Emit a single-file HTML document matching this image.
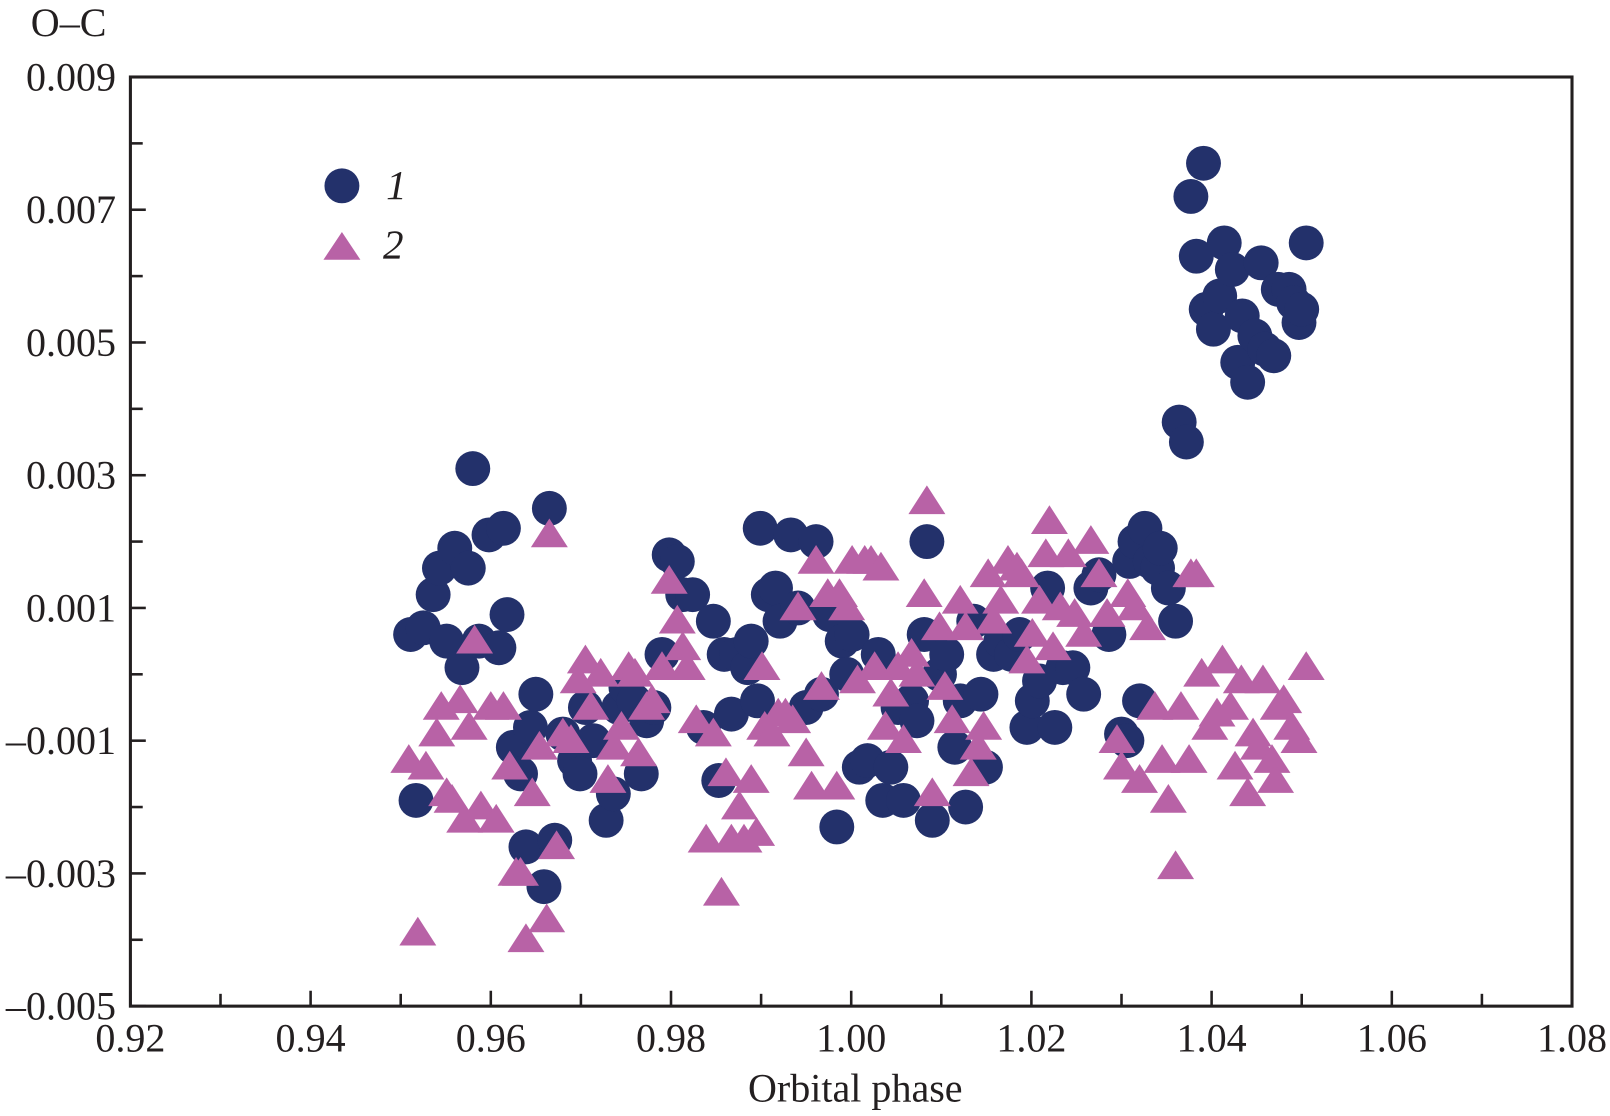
<!DOCTYPE html>
<html><head><meta charset="utf-8">
<style>
html,body{margin:0;padding:0;background:#fff;}
svg{display:block;}
text{font-family:"Liberation Serif",serif;fill:#231f20;}
</style></head>
<body>
<svg id="chart" width="1610" height="1116" viewBox="0 0 1568 1087" preserveAspectRatio="none" xmlns="http://www.w3.org/2000/svg">
<g id="marks1"></g>
<g id="marks2"></g>
<g id="axes"></g>
<text x="30" y="35" font-size="39">O–C</text>
<text x="833" y="1073" font-size="39" text-anchor="middle">Orbital phase</text>
<g>
<circle cx="333" cy="181" r="17" fill="#23316b"></circle>
<text x="376" y="194" font-size="40" font-style="italic">1</text>
<polygon points="315,253 351,253 333,226" fill="#b862a6"></polygon>
<text x="373" y="252" font-size="40" font-style="italic">2</text>
</g>
</svg>
<script>
const xTicks=[0.92,0.94,0.96,0.98,1.00,1.02,1.04,1.06,1.08];
const xTickLabels=["0.92","0.94","0.96","0.98","1.00","1.02","1.04","1.06","1.08"];
const yTicks=[0.009,0.007,0.005,0.003,0.001,-0.001,-0.003,-0.005];
const yTickLabels=["0.009","0.007","0.005","0.003","0.001","\u20130.001","\u20130.003","\u20130.005"];
const s1x=[0.9511,0.9525,0.9517,0.9536,0.9543,0.9551,0.9560,0.9568,0.9575,0.9580,0.9587,0.9598,0.9609,0.9614,0.9618,0.9625,0.9633,0.9639,0.9644,0.9650,0.9659,0.9665,0.9671,0.9680,0.9693,0.9699,0.9705,0.9714,0.9728,0.9736,0.9742,0.9750,0.9759,0.9767,0.9773,0.9781,0.9790,0.9798,0.9807,0.9813,0.9824,0.9836,0.9847,0.9853,0.9859,0.9867,0.9873,0.9885,0.9889,0.9896,0.9899,0.9908,0.9916,0.9921,0.9933,0.9941,0.9950,0.9961,0.9967,0.9976,0.9984,0.9990,0.9995,1.0001,1.0009,1.0018,1.0030,1.0035,1.0044,1.0052,1.0058,1.0067,1.0073,1.0081,1.0084,1.0090,1.0098,1.0106,1.0115,1.0121,1.0127,1.0136,1.0144,1.0149,1.0158,1.0166,1.0178,1.0187,1.0195,1.0201,1.0209,1.0218,1.0226,1.0235,1.0246,1.0258,1.0266,1.0275,1.0286,1.0300,1.0306,1.0309,1.0315,1.0320,1.0326,1.0332,1.0340,1.0343,1.0352,1.0360,1.0364,1.0372,1.0377,1.0383,1.0391,1.0394,1.0402,1.0409,1.0414,1.0423,1.0429,1.0434,1.0440,1.0448,1.0455,1.0459,1.0469,1.0474,1.0486,1.0491,1.0497,1.0505,1.0500];
const s1y=[0.0006,0.0007,-0.0019,0.0012,0.0016,0.0005,0.0019,0.0001,0.0016,0.0031,0.0005,0.0021,0.0004,0.0022,0.0009,-0.0011,-0.0015,-0.0026,-0.0008,-0.0003,-0.0032,0.0025,-0.0025,-0.0009,-0.0013,-0.0015,-0.0005,-0.0010,-0.0022,-0.0018,-0.0005,-0.0002,-0.0004,-0.0015,-0.0007,-0.0005,0.0003,0.0018,0.0017,0.0012,0.0012,-0.0008,0.0008,-0.0016,0.0003,-0.0006,0.0003,0.0001,0.0005,-0.0004,0.0022,0.0012,0.0013,0.0008,0.0021,0.0010,-0.0005,0.0020,-0.0003,0.0009,-0.0023,0.0005,0.0000,0.0006,-0.0014,-0.0013,0.0003,-0.0019,-0.0014,-0.0005,-0.0019,-0.0004,-0.0007,0.0006,0.0020,-0.0022,0.0000,0.0003,-0.0011,-0.0004,-0.0020,0.0008,-0.0003,-0.0014,0.0003,0.0005,0.0003,0.0006,-0.0008,-0.0004,-0.0001,0.0013,-0.0008,0.0001,0.0001,-0.0003,0.0013,0.0015,0.0006,-0.0009,-0.0010,0.0017,0.0020,-0.0004,0.0022,0.0017,0.0016,0.0019,0.0013,0.0008,0.0038,0.0035,0.0072,0.0063,0.0077,0.0055,0.0052,0.0057,0.0065,0.0061,0.0047,0.0054,0.0044,0.0051,0.0062,0.0049,0.0048,0.0058,0.0058,0.0056,0.0053,0.0065,0.0055];
const s2x=[0.9519,0.9509,0.9528,0.9540,0.9545,0.9551,0.9557,0.9566,0.9571,0.9576,0.9582,0.9589,0.9600,0.9606,0.9614,0.9621,0.9628,0.9633,0.9639,0.9646,0.9654,0.9662,0.9665,0.9673,0.9680,0.9689,0.9697,0.9705,0.9711,0.9722,0.9730,0.9737,0.9745,0.9753,0.9760,0.9764,0.9773,0.9779,0.9790,0.9798,0.9807,0.9813,0.9818,0.9828,0.9839,0.9847,0.9856,0.9861,0.9867,0.9876,0.9881,0.9889,0.9895,0.9901,0.9904,0.9912,0.9919,0.9927,0.9935,0.9941,0.9950,0.9956,0.9961,0.9967,0.9974,0.9984,0.9987,0.9995,1.0001,1.0007,1.0015,1.0022,1.0026,1.0033,1.0038,1.0044,1.0052,1.0058,1.0067,1.0073,1.0081,1.0084,1.0090,1.0098,1.0104,1.0112,1.0121,1.0127,1.0133,1.0141,1.0147,1.0152,1.0158,1.0166,1.0174,1.0184,1.0189,1.0195,1.0201,1.0209,1.0216,1.0220,1.0224,1.0232,1.0241,1.0248,1.0258,1.0266,1.0275,1.0284,1.0295,1.0300,1.0307,1.0315,1.0320,1.0329,1.0337,1.0345,1.0352,1.0360,1.0366,1.0375,1.0377,1.0383,1.0389,1.0398,1.0406,1.0412,1.0421,1.0426,1.0433,1.0440,1.0446,1.0452,1.0457,1.0467,1.0471,1.0474,1.0480,1.0489,1.0497,1.0505];
const s2y=[-0.0039,-0.0013,-0.0014,-0.0009,-0.0005,-0.0018,-0.0019,-0.0004,-0.0022,-0.0008,0.0005,-0.0020,-0.0005,-0.0022,-0.0005,-0.0014,-0.0030,-0.0030,-0.0040,-0.0018,-0.0011,-0.0037,0.0021,-0.0026,-0.0009,-0.0010,-0.0001,0.0002,-0.0005,0.0000,-0.0016,-0.0011,-0.0008,0.0001,0.0000,-0.0012,-0.0005,-0.0004,0.0001,0.0014,0.0008,0.0004,0.0001,-0.0007,-0.0025,-0.0009,-0.0033,-0.0015,-0.0025,-0.0020,-0.0025,-0.0016,-0.0024,0.0001,-0.0008,-0.0009,-0.0006,-0.0006,-0.0007,0.0010,-0.0012,-0.0017,0.0017,-0.0002,0.0012,-0.0017,0.0012,0.0010,0.0017,-0.0001,0.0017,0.0017,0.0001,0.0016,-0.0008,-0.0003,0.0001,-0.0010,0.0003,0.0000,0.0012,0.0026,-0.0018,0.0007,-0.0002,-0.0007,0.0011,0.0007,-0.0015,-0.0011,-0.0008,0.0015,0.0008,0.0011,0.0017,0.0016,0.0015,0.0002,0.0006,0.0011,0.0018,0.0023,0.0004,0.0010,0.0018,0.0009,0.0006,0.0020,0.0015,0.0009,-0.0010,-0.0014,0.0012,0.0010,-0.0016,0.0007,-0.0005,-0.0013,-0.0019,-0.0029,-0.0005,-0.0013,0.0015,0.0015,0.0000,-0.0008,-0.0006,0.0002,-0.0005,-0.0014,-0.0001,-0.0018,-0.0009,-0.0011,-0.0001,-0.0013,-0.0016,-0.0005,-0.0004,-0.0008,-0.0010,0.0001];

const NS="http://www.w3.org/2000/svg";
const L=127,R=1531,T=75,B=980;
const xMin=0.92,xMax=1.08,yMin=-0.005,yMax=0.009;
function X(v){return L+(v-xMin)/(xMax-xMin)*(R-L);}
function Y(v){return B-(v-yMin)/(yMax-yMin)*(B-T);}
function mk(tag,attrs,parent){const e=document.createElementNS(NS,tag);for(const k in attrs)e.setAttribute(k,attrs[k]);parent.appendChild(e);return e;}

const g1=document.getElementById('marks1');
for(let i=0;i<s1x.length;i++){
  const c=mk('circle',{cx:X(s1x[i]),cy:Y(s1y[i]),r:17,fill:'#23316b'},g1);
  
  
}
const g2=document.getElementById('marks2');
for(let i=0;i<s2x.length;i++){
  const cx=X(s2x[i]),cy=Y(s2y[i]);
  const p=mk('polygon',{points:(cx-18)+','+(cy+12)+' '+(cx+18)+','+(cy+12)+' '+cx+','+(cy-16),fill:'#b862a6'},g2);
  
  
}
const ax=document.getElementById('axes');
const frame=mk('rect',{x:L,y:T,width:R-L,height:B-T,fill:'none',stroke:'#231f20','stroke-width':3},ax);


for(let i=0;i<xTicks.length;i++){
  const x=X(xTicks[i]);
  const t=mk('line',{x1:x,x2:x,y1:B,y2:B-15,stroke:'#231f20','stroke-width':2.5},ax);
  
  
  if(i<xTicks.length-1){
    const xm=X((xTicks[i]+xTicks[i+1])/2);
    const m=mk('line',{x1:xm,x2:xm,y1:B,y2:B-12,stroke:'#231f20','stroke-width':2.5},ax);
    
    
  }
  const lb=mk('text',{x:x,y:B+44,'font-size':39,'text-anchor':'middle'},ax);
  lb.textContent=xTickLabels[i];
  
  
}
for(let i=0;i<yTicks.length;i++){
  const y=Y(yTicks[i]);
  const t=mk('line',{x1:L,x2:L+15,y1:y,y2:y,stroke:'#231f20','stroke-width':2.5},ax);
  
  
  if(i<yTicks.length-1){
    const ym=Y((yTicks[i]+yTicks[i+1])/2);
    const m=mk('line',{x1:L,x2:L+12,y1:ym,y2:ym,stroke:'#231f20','stroke-width':2.5},ax);
    
    
  }
  const lb=mk('text',{x:113,y:y+13,'font-size':39,'text-anchor':'end'},ax);
  lb.textContent=yTickLabels[i];
  
  
}
</script>
</body></html>
